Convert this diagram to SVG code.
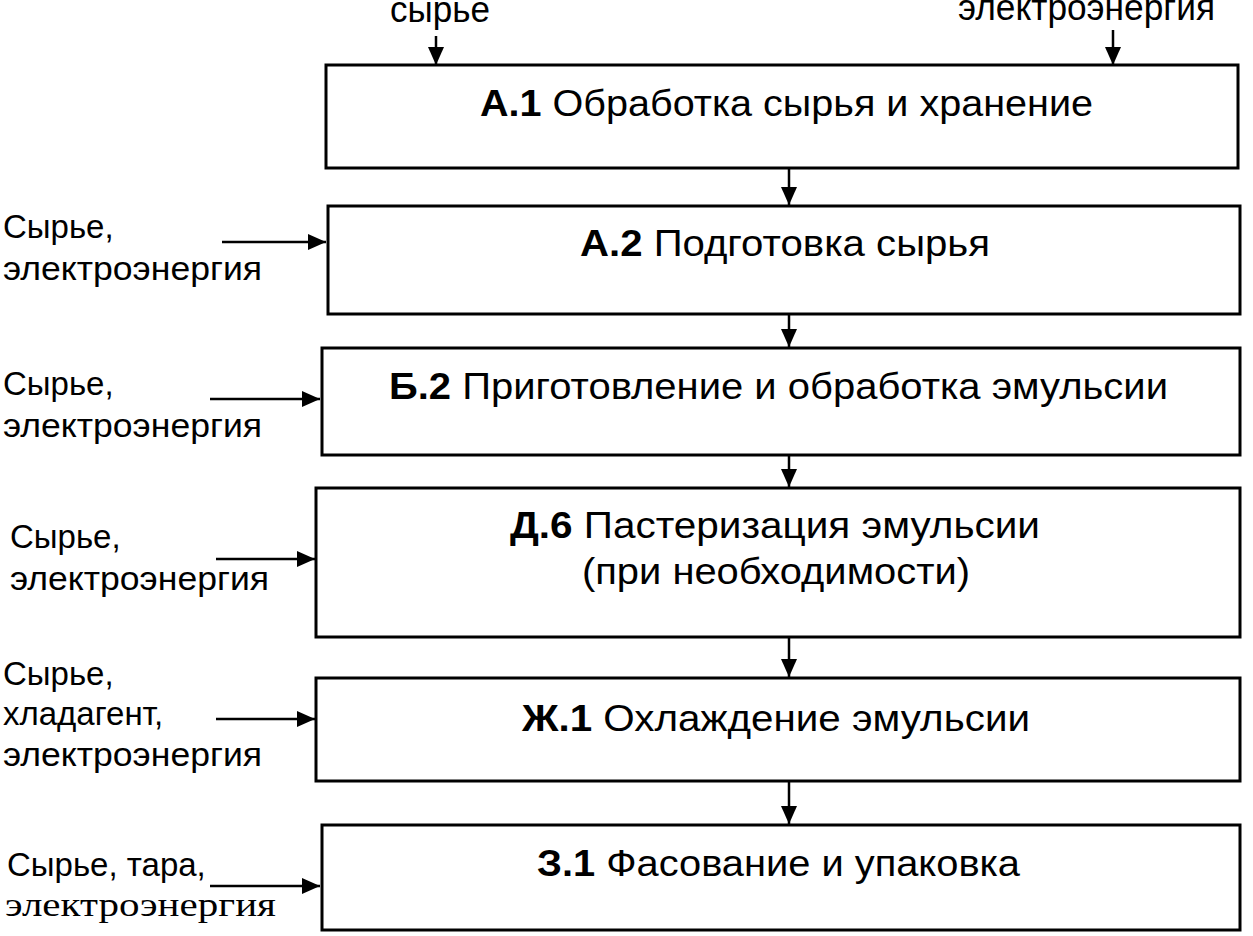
<svg xmlns="http://www.w3.org/2000/svg" width="1253" height="936" viewBox="0 0 1253 936">
<style>
.box{fill:#fff;stroke:#000;stroke-width:3}
.t{font-family:"Liberation Sans",Arial,sans-serif;font-size:36px;fill:#000}
.b{font-weight:bold}
.l{font-family:"Liberation Sans",Arial,sans-serif;font-size:33px;fill:#000}
.s{font-family:"Liberation Serif","Times New Roman",serif;font-size:34px;fill:#000}
.c{stroke:#000;stroke-width:2.5;fill:none;marker-end:url(#ah)}
</style>
<defs>
<marker id="ah" markerWidth="18" markerHeight="16" refX="18" refY="8" orient="auto" markerUnits="userSpaceOnUse">
<path d="M0,0 L18,8 L0,16 Z" fill="#000"/>
</marker>
</defs>
<rect width="1253" height="936" fill="#fff"/>
<g id="connectors">
<line class="c" x1="436" y1="36" x2="436" y2="65"/>
<line class="c" x1="1113" y1="30" x2="1113" y2="65"/>
<line class="c" x1="789" y1="168" x2="789" y2="205"/>
<line class="c" x1="789" y1="314" x2="789" y2="347"/>
<line class="c" x1="789" y1="455" x2="789" y2="487"/>
<line class="c" x1="789" y1="637" x2="789" y2="677"/>
<line class="c" x1="789" y1="781" x2="789" y2="824"/>
<line class="c" x1="222" y1="242" x2="326" y2="242"/>
<line class="c" x1="210" y1="399" x2="320" y2="399"/>
<line class="c" x1="216" y1="559" x2="315" y2="559"/>
<line class="c" x1="216" y1="719" x2="315" y2="719"/>
<line class="c" x1="210" y1="886" x2="320" y2="886"/>
</g>
<g id="inputs">
<text class="t" x="390" y="22" textLength="100" lengthAdjust="spacingAndGlyphs" font-size="32">сырье</text>
<text class="t" x="958" y="20" textLength="257" lengthAdjust="spacingAndGlyphs" font-size="32">электроэнергия</text>
<text class="l" x="3" y="238">Сырье,</text>
<text class="l" x="3" y="280" textLength="259" lengthAdjust="spacingAndGlyphs">электроэнергия</text>
<text class="l" x="3" y="395">Сырье,</text>
<text class="l" x="3" y="437" textLength="259" lengthAdjust="spacingAndGlyphs">электроэнергия</text>
<text class="l" x="10" y="548">Сырье,</text>
<text class="l" x="10" y="590" textLength="259" lengthAdjust="spacingAndGlyphs">электроэнергия</text>
<text class="l" x="3" y="685">Сырье,</text>
<text class="l" x="3" y="725">хладагент,</text>
<text class="l" x="3" y="766" textLength="259" lengthAdjust="spacingAndGlyphs">электроэнергия</text>
<text class="l" x="7" y="876">Сырье, тара,</text>
<text class="s" x="5" y="916" textLength="271" lengthAdjust="spacingAndGlyphs">электроэнергия</text>
</g>
<g id="n-a1">
<rect class="box" x="326" y="65" width="912" height="103"/>
<text class="t" x="480" y="116" textLength="613" lengthAdjust="spacingAndGlyphs"><tspan class="b">А.1</tspan> Обработка сырья и хранение</text>
</g>
<g id="n-a2">
<rect class="box" x="328" y="206" width="912" height="108"/>
<text class="t" x="580" y="256" textLength="410" lengthAdjust="spacingAndGlyphs"><tspan class="b">А.2</tspan> Подготовка сырья</text>
</g>
<g id="n-b2">
<rect class="box" x="322" y="348" width="918" height="107"/>
<text class="t" x="389" y="399" textLength="779" lengthAdjust="spacingAndGlyphs"><tspan class="b">Б.2</tspan> Приготовление и обработка эмульсии</text>
</g>
<g id="n-d6">
<rect class="box" x="316" y="488" width="924" height="149"/>
<text class="t" x="510" y="538" textLength="530" lengthAdjust="spacingAndGlyphs"><tspan class="b">Д.6</tspan> Пастеризация эмульсии</text>
<text class="t" x="582" y="584" textLength="388" lengthAdjust="spacingAndGlyphs">(при необходимости)</text>
</g>
<g id="n-zh1">
<rect class="box" x="316" y="678" width="924" height="103"/>
<text class="t" x="522" y="731" textLength="508" lengthAdjust="spacingAndGlyphs"><tspan class="b">Ж.1</tspan> Охлаждение эмульсии</text>
</g>
<g id="n-z1">
<rect class="box" x="322" y="825" width="918" height="105"/>
<text class="t" x="537" y="876" textLength="483" lengthAdjust="spacingAndGlyphs"><tspan class="b">З.1</tspan> Фасование и упаковка</text>
</g>
</svg>
